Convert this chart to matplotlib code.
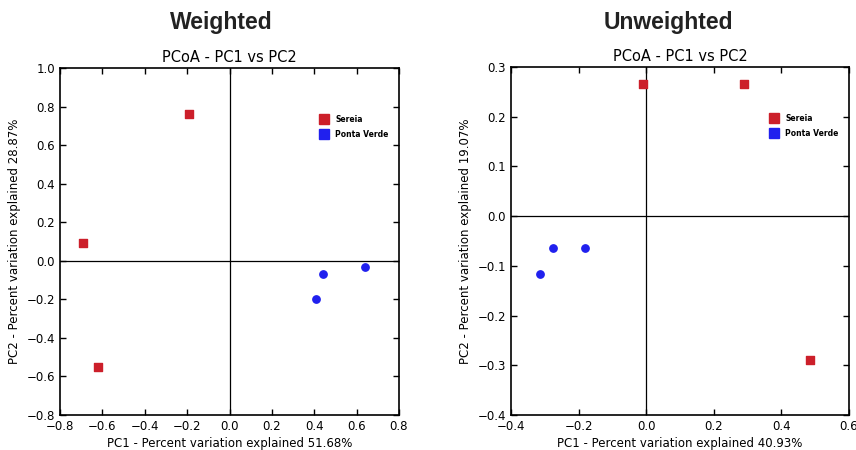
import matplotlib.pyplot as plt

# Weighted UniFrac PCoA
w_sereia_pc1 = [-0.19, -0.69, -0.62]
w_sereia_pc2 = [0.76, 0.09, -0.55]
w_ponta_pc1 = [0.41, 0.44, 0.64]
w_ponta_pc2 = [-0.20, -0.07, -0.03]

# Unweighted UniFrac PCoA
u_sereia_pc1 = [-0.01, 0.29, 0.485]
u_sereia_pc2 = [0.265, 0.265, -0.29]
u_ponta_pc1 = [-0.315, -0.275, -0.18]
u_ponta_pc2 = [-0.117, -0.065, -0.065]

groups = ["Sereia", "Ponta Verde"]
group_colors = ["#cc1f2a", "#2020ee"]

RED, BLUE = group_colors


def draw_panel(ax, s_x, s_y, p_x, p_y, xlim, ylim, xticks, yticks, pc1, pc2):
    ax.axhline(0, color="black", lw=0.9, zorder=1)
    ax.axvline(0, color="black", lw=0.9, zorder=1)
    ax.scatter(s_x, s_y, marker="s", s=30, color=RED, label=groups[0], zorder=3)
    ax.scatter(p_x, p_y, marker="o", s=28, color=BLUE, label=groups[1], zorder=3)
    ax.set_xlim(xlim)
    ax.set_ylim(ylim)
    ax.set_xticks(xticks)
    ax.set_yticks(yticks)
    ax.tick_params(direction="in", top=True, right=True, labelsize=8.5, length=4, width=1)
    for sp in ax.spines.values():
        sp.set_linewidth(1.2)
    ax.set_title("PCoA - PC1 vs PC2", fontsize=10.5, pad=4)
    ax.set_xlabel(f"PC1 - Percent variation explained {pc1}", fontsize=8.5, labelpad=3)
    ax.set_ylabel(f"PC2 - Percent variation explained {pc2}", fontsize=8.5)
    h1 = plt.Line2D([], [], marker="s", ls="", color=RED, markersize=7)
    h2 = plt.Line2D([], [], marker="s", ls="", color=BLUE, markersize=7)
    ax.legend([h1, h2], groups, loc="upper right", bbox_to_anchor=(0.99, 0.885),
              frameon=False, prop={"size": 5.5, "weight": "bold"}, handletextpad=0.5,
              labelspacing=0.8)


fig = plt.figure(figsize=(8.56, 4.5), dpi=100)
ax1 = fig.add_axes([60 / 856, 1 - 415 / 450, 339 / 856, 347 / 450])
ax2 = fig.add_axes([511 / 856, 1 - 415 / 450, 338 / 856, 348 / 450])

draw_panel(ax1, w_sereia_pc1, w_sereia_pc2, w_ponta_pc1, w_ponta_pc2,
           (-0.8, 0.8), (-0.8, 1.0),
           [-0.8, -0.6, -0.4, -0.2, 0.0, 0.2, 0.4, 0.6, 0.8],
           [-0.8, -0.6, -0.4, -0.2, 0.0, 0.2, 0.4, 0.6, 0.8, 1.0],
           "51.68%", "28.87%")
draw_panel(ax2, u_sereia_pc1, u_sereia_pc2, u_ponta_pc1, u_ponta_pc2,
           (-0.4, 0.6), (-0.4, 0.3),
           [-0.4, -0.2, 0.0, 0.2, 0.4, 0.6],
           [-0.4, -0.3, -0.2, -0.1, 0.0, 0.1, 0.2, 0.3],
           "40.93%", "19.07%")

fig.text(221 / 856, 1 - 22 / 450, "Weighted", ha="center", va="center",
         fontsize=16.5, fontweight="bold", color="#222222", family="Liberation Sans")
fig.text(668 / 856, 1 - 22 / 450, "Unweighted", ha="center", va="center",
         fontsize=16.5, fontweight="bold", color="#222222", family="Liberation Sans")

fig.savefig("out.png", dpi=100)
